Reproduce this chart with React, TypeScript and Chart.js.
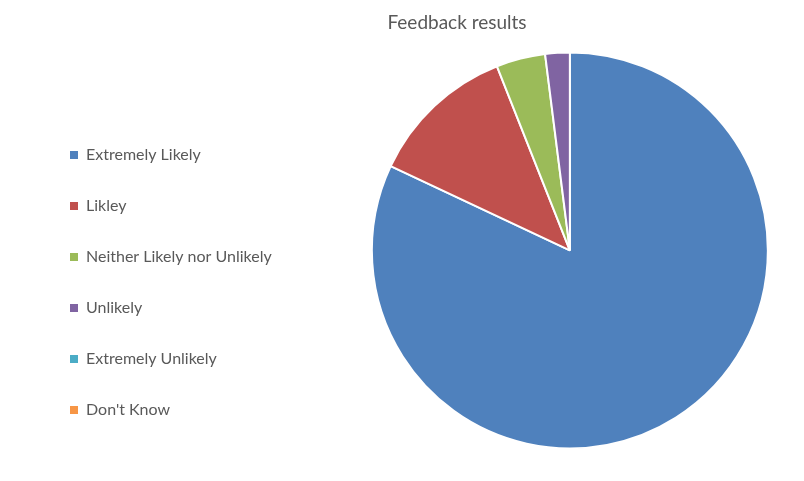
import React, { useEffect, useRef } from "react";
import { Chart, registerables, DoughnutController } from "chart.js";

Chart.register(...registerables);

const categories = [
  "Extremely Likely",
  "Likley",
  "Neither Likely nor Unlikely",
  "Unlikely",
  "Extremely Unlikely",
  "Don't Know",
];
const values = [82, 12, 4, 2, 0, 0];
const colors = ["#4F81BD", "#C0504D", "#9BBB59", "#8064A2", "#4BACC6", "#F79646"];
const titleText = "Feedback results";

// leaves a blank gap between the legend and the pie, like the original
const GAP = 54;
const gapPlugin = {
  id: "legendGap",
  afterLayout(chart: any) {
    const a = chart.chartArea;
    a.left += GAP;
    a.width = a.right - a.left;
  },
};

export default function App() {
  const ref = useRef<HTMLCanvasElement | null>(null);
  useEffect(() => {
    if (!ref.current) return;
    const baseLabels = (DoughnutController as any).overrides.plugins.legend.labels.generateLabels;
    const chart = new Chart(ref.current, {
      type: "pie",
      data: {
        labels: categories,
        datasets: [
          {
            data: values,
            backgroundColor: colors,
            borderColor: "#ffffff",
            borderWidth: 2,
            radius: 198,
          },
        ],
      },
      plugins: [gapPlugin],
      options: {
        responsive: false,
        animation: false,
        layout: { padding: { left: 35, right: -75, top: 0, bottom: 28 } },
        plugins: {
          title: {
            display: true,
            text: titleText,
            color: "#595959",
            font: { family: "Lato", size: 19, weight: "normal" },
            padding: { top: 11, bottom: 14 },
          },
          legend: {
            position: "left",
            align: "end",
            labels: {
              boxWidth: 8,
              boxHeight: 8,
              padding: 35,
              color: "#595959",
              font: { family: "Lato", size: 16 },
              generateLabels: (c: any) =>
                baseLabels(c).map((l: any) => ({ ...l, lineWidth: 0, hidden: false })),
            },
          },
          tooltip: { enabled: false },
        },
      },
    });
    return () => chart.destroy();
  }, []);
  return (
    <div style={{ position: "fixed", left: 0, top: 0, width: 804, height: 481, background: "#fff" }}>
      <canvas ref={ref} width={804} height={481} />
    </div>
  );
}
